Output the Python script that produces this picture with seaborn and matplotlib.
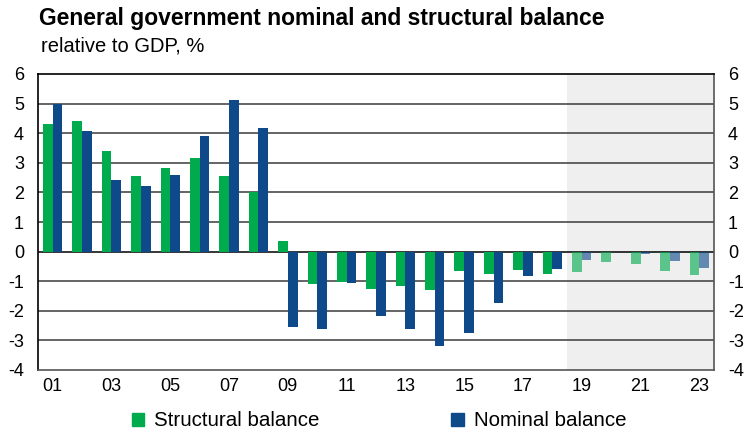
import numpy as np
import pandas as pd
import seaborn as sns
import matplotlib.pyplot as plt
from matplotlib.patches import Patch

years = ['01', '02', '03', '04', '05', '06', '07', '08', '09', '10', '11', '12',
         '13', '14', '15', '16', '17', '18', '19', '20', '21', '22', '23']
structural = [4.3, 4.4, 3.4, 2.55, 2.82, 3.15, 2.57, 2.03, 0.35, -1.09, -1.03, -1.25,
              -1.17, -1.29, -0.67, -0.75, -0.62, -0.74, -0.7, -0.36, -0.43, -0.66, -0.78]
nominal = [5.0, 4.08, 2.43, 2.2, 2.58, 3.92, 5.12, 4.17, -2.56, -2.6, -1.05, -2.19,
           -2.6, -3.2, -2.75, -1.72, -0.81, -0.58, -0.28, -0.03, -0.09, -0.33, -0.56]
n_forecast = 5

green = '#00AB4E'
blue = '#0E4A8A'

df = pd.DataFrame({
    'year': years * 2,
    'value': structural + nominal,
    'series': ['Structural balance'] * len(years) + ['Nominal balance'] * len(years),
})

plt.rcParams['font.family'] = ['Liberation Sans', 'DejaVu Sans']
plt.rcParams['axes.unicode_minus'] = False
fig = plt.figure(figsize=(7.48, 4.32), dpi=100)
ax = fig.add_axes([38 / 748, 1 - 370 / 432, 676 / 748, 296 / 432])

sns.barplot(data=df, x='year', y='value', hue='series', order=years,
            palette=[green, blue], saturation=1, width=0.66, ax=ax,
            legend=False, zorder=3)

# forecast shading and lighter bars
ax.axvspan(len(years) - n_forecast - 0.5, len(years) - 0.5, color='#E6E6E6', zorder=0, lw=0)
for p in ax.patches:
    cx = p.get_x() + p.get_width() / 2
    if cx > len(years) - n_forecast - 0.5:
        p.set_alpha(0.62)

for v in range(-3, 6):
    ax.axhline(v, color='#3a3a3a' if v != 0 else 'black', lw=1.1, zorder=1)

ax.set_xlim(-0.5, len(years) - 0.5)
ax.set_ylim(-4, 6)
ax.set_yticks(range(-4, 7))
ax.set_xticks(range(0, len(years), 2))
ax.set_xticklabels(years[::2])
ax.tick_params(axis='both', length=0, labelsize=13, labelright=True)
ax.tick_params(axis='x', pad=6)
ax.tick_params(axis='y', pad=10)
ax.set_xlabel('')
ax.set_ylabel('')
for s in ['left', 'top']:
    ax.spines[s].set_color('black')
for s in ['right', 'bottom']:
    ax.spines[s].set_color('#555555')
for s in ax.spines.values():
    s.set_linewidth(1.2)
    s.set_zorder(4)

fig.text(39 / 748, 1 - 19 / 432, 'General government nominal and structural balance',
         fontsize=16.5, fontweight='bold', va='center')
fig.text(41 / 748, 1 - 46 / 432, 'relative to GDP, %', fontsize=14.5, va='center')

handles = [Patch(color=green), Patch(color=blue)]
fig.legend(handles, ['Structural balance', 'Nominal balance'], ncol=2, frameon=False,
           loc='center', bbox_to_anchor=(379 / 748, 1 - 421 / 432), fontsize=14.8,
           handlelength=0.6, handleheight=0.6, handletextpad=0.5, columnspacing=6.4,
           borderpad=0)

fig.savefig('out.png', dpi=100)
